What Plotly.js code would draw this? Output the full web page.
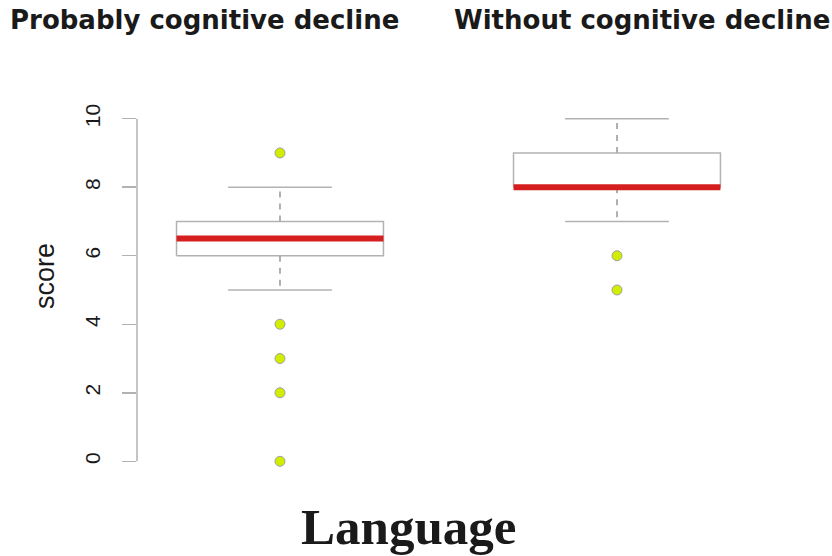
<!DOCTYPE html>
<html>
<head>
<meta charset="utf-8">
<script src="https://cdn.plot.ly/plotly-3.0.1.min.js"></script>
<style>html,body{margin:0;padding:0;background:#fff}#chart{width:832px;height:556px}</style>
</head>
<body>
<div id="chart"></div>
<script>
// ---- data ----
var groups = ['Probably cognitive decline', 'Without cognitive decline'];
var groupPos = [1, 2];
var lowerWhisker = [5, 7];
var q1 = [6, 8];
var median = [6.5, 8];
var q3 = [7, 9];
var upperWhisker = [8, 10];
var outliers = [[9, 4, 3, 2, 0], [6, 5]];
var yTicks = [0, 2, 4, 6, 8, 10];
var yTitle = 'score';
var xTitle = 'Language';

// ---- styles ----
var boxHalf = 0.307, capHalf = 0.154;
var grey = '#b2b2b2';
var traces = [];
groupPos.forEach(function (c, i) {
  traces.push({x: [c - boxHalf, c + boxHalf, c + boxHalf, c - boxHalf, c - boxHalf],
    y: [q1[i], q1[i], q3[i], q3[i], q1[i]], mode: 'lines', fill: 'toself', fillcolor: '#fff',
    line: {color: grey, width: 1.5}, hoverinfo: 'skip'});
  traces.push({x: [c, c, null, c, c], y: [q3[i], upperWhisker[i], null, q1[i], lowerWhisker[i]],
    mode: 'lines', line: {color: '#a8a8a8', width: 1.8, dash: '6px,6px'}, hoverinfo: 'skip'});
  traces.push({x: [c - capHalf, c + capHalf, null, c - capHalf, c + capHalf],
    y: [upperWhisker[i], upperWhisker[i], null, lowerWhisker[i], lowerWhisker[i]],
    mode: 'lines', line: {color: grey, width: 1.5}, hoverinfo: 'skip'});
  traces.push({x: [c - boxHalf, c + boxHalf], y: [median[i], median[i]], mode: 'lines',
    line: {color: '#d51f1f', width: 6}, hoverinfo: 'skip'});
  traces.push({x: outliers[i].map(function () { return c; }), y: outliers[i], mode: 'markers',
    marker: {color: '#d2ee00', size: 10, line: {color: '#a0a0a0', width: 1}}, cliponaxis: false});
});

var L = 137, R = 42, T = 105, B = 81, W = 832, H = 556;
var pw = W - L - R, ph = H - T - B;
function px(x) { return (x - L) / pw; }
function py(y) { return (H - B - y) / ph; }

var layout = {
  width: W, height: H, showlegend: false,
  margin: {l: L, r: R, t: T, b: B},
  paper_bgcolor: '#fff', plot_bgcolor: '#fff',
  xaxis: {range: [0.5757, 2.5134], visible: false, showgrid: false, zeroline: false},
  yaxis: {range: [-0.4, 10.4], tickvals: yTicks, ticktext: yTicks.map(String), tickangle: -90,
    ticks: 'outside', ticklen: 14, tickcolor: grey, tickwidth: 1.5, showline: false,
    showgrid: false, zeroline: false, ticklabelstandoff: 14,
    tickfont: {family: 'Liberation Sans, Arial', size: 21, color: '#1a1a1a'}},
  shapes: [{type: 'line', xref: 'paper', yref: 'y', x0: 0, x1: 0, y0: yTicks[0], y1: yTicks[yTicks.length - 1],
    line: {color: grey, width: 1.5}}],
  annotations: [
    {text: yTitle, xref: 'paper', yref: 'paper', x: px(45), y: py(276), textangle: -90,
      xanchor: 'center', yanchor: 'middle', showarrow: false,
      font: {family: 'Liberation Sans, Arial', size: 27, color: '#1a1a1a'}},
    {text: '<b>' + groups[0] + '</b>', xref: 'paper', yref: 'paper', x: px(8), y: py(20),
      xanchor: 'left', yanchor: 'middle', showarrow: false,
      font: {family: 'DejaVu Sans', size: 26, color: '#1a1a1a'}},
    {text: '<b>' + groups[1] + '</b>', xref: 'paper', yref: 'paper', x: px(452), y: py(20),
      xanchor: 'left', yanchor: 'middle', showarrow: false,
      font: {family: 'DejaVu Sans', size: 26, color: '#1a1a1a'}},
    {text: '<b>' + xTitle + '</b>', xref: 'paper', yref: 'paper', x: px(408), y: py(527),
      xanchor: 'center', yanchor: 'middle', showarrow: false,
      font: {family: 'Liberation Serif, Times New Roman', size: 51, color: '#1a1a1a'}}
  ]
};
Plotly.newPlot('chart', traces, layout, {staticPlot: true, displayModeBar: false});
</script>
</body>
</html>
